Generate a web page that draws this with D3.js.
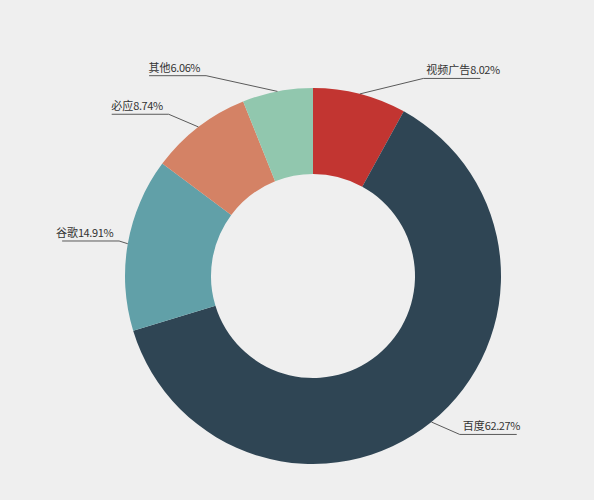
<!DOCTYPE html>
<html>
<head>
<meta charset="utf-8">
<script src="https://cdn.jsdelivr.net/npm/d3@7"></script>
<style>
  html, body { margin: 0; padding: 0; background: #efefef; }
  svg { display: block; }
</style>
</head>
<body>
<svg id="chart" width="594" height="500"></svg>
<script>
const categories = ["视频广告", "百度", "谷歌", "必应", "其他"];
const shares = [8.02, 62.27, 14.91, 8.74, 6.06];
const colors = ["#c23531", "#2f4554", "#61a0a8", "#d48265", "#91c7ae"];

const W = 594, H = 500;
const cx = 313, cy = 276;
const outerR = 188, innerR = 102;

const data = categories.map((c, i) => ({ name: c, value: shares[i], color: colors[i] }));

const svg = d3.select("#chart");
svg.append("rect").attr("width", W).attr("height", H).attr("fill", "#efefef");

const g = svg.append("g").attr("transform", `translate(${cx},${cy})`);

const pie = d3.pie().value(d => d.value).sort(null);
const arc = d3.arc().innerRadius(innerR).outerRadius(outerR);
const arcs = pie(data);

g.selectAll("path.slice")
  .data(arcs)
  .join("path")
  .attr("class", "slice")
  .attr("d", arc)
  .attr("fill", d => d.data.color);

// label lines: start on the outer edge at mid-angle, turn at an elbow, then run horizontally
const len2 = 57;
const labels = g.append("g");
arcs.forEach(d => {
  const a = (d.startAngle + d.endAngle) / 2;
  const s = Math.sin(a), c = Math.cos(a);
  const side = s >= 0 ? 1 : -1;
  const p0 = [outerR * s, -outerR * c];
  const ey = -(outerR + 16) * c;
  const ex = side * (outerR + 8) * Math.sqrt(Math.max(0, 1 - (ey * ey) / ((outerR + 51) * (outerR + 51))));
  const p1 = [ex, ey];
  const p2 = [ex + side * len2, ey];
  labels.append("polyline")
    .attr("points", [p0, p1, p2].map(p => p.join(",")).join(" "))
    .attr("fill", "none")
    .attr("stroke", "#5a5a5a")
    .attr("stroke-width", 1);
  const t = labels.append("text")
    .attr("x", ex + side * (side > 0 ? 3 : 6))
    .attr("y", ey - 4)
    .attr("text-anchor", side > 0 ? "start" : "end")
    .attr("font-family", "'Noto Sans CJK SC', 'Noto Sans', sans-serif")
    .attr("font-size", 11)
    .attr("fill", "#333");
  t.append("tspan").text(d.data.name);
  t.append("tspan").attr("letter-spacing", -0.4).text(d3.format(".2f")(d.data.value) + "%");
});
</script>
</body>
</html>
